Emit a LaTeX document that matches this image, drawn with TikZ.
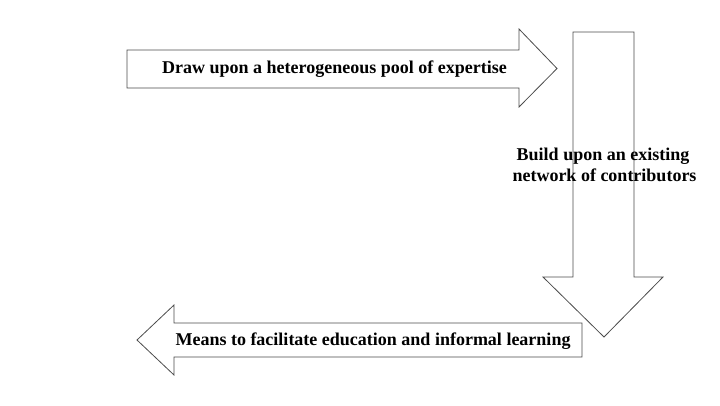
\documentclass[tikz,border=0pt]{standalone}
\usepackage{fontspec}
\setmainfont{Liberation Serif}
\begin{document}
\begin{tikzpicture}[x=1pt,y=-1pt,
  arrowshape/.style={draw=black!70, line width=0.8pt, fill=white, line join=miter},
  lbl/.style={font=\bfseries\fontsize{18}{21}\selectfont, inner sep=0pt, align=center}]
\useasboundingbox (0,0) rectangle (720,405);
% top arrow (right)
\draw[arrowshape] (127,50) -- (519,50) -- (519,29) -- (557,68.5) -- (519,107) -- (519,88) -- (127,88) -- cycle;
% down arrow
\draw[arrowshape] (573,32) -- (634,32) -- (634,277) -- (663,277) -- (604,337) -- (543,277) -- (573,277) -- cycle;
% bottom arrow (left)
\draw[arrowshape] (582,323) -- (174,323) -- (174,305) -- (137,340) -- (174,375) -- (174,357) -- (582,357) -- cycle;
\node[lbl, anchor=base] (t1) at (334.5,73.5) {Draw upon a heterogeneous pool of expertise};
\node[lbl, anchor=base] (t2a) at (603,160.5) {Build upon an existing};
\node[lbl, anchor=base] (t2b) at (604.5,181) {network of contributors};
\node[lbl, anchor=base] (t3) at (373,345) {Means to facilitate education and informal learning};
\end{tikzpicture}
\end{document}
